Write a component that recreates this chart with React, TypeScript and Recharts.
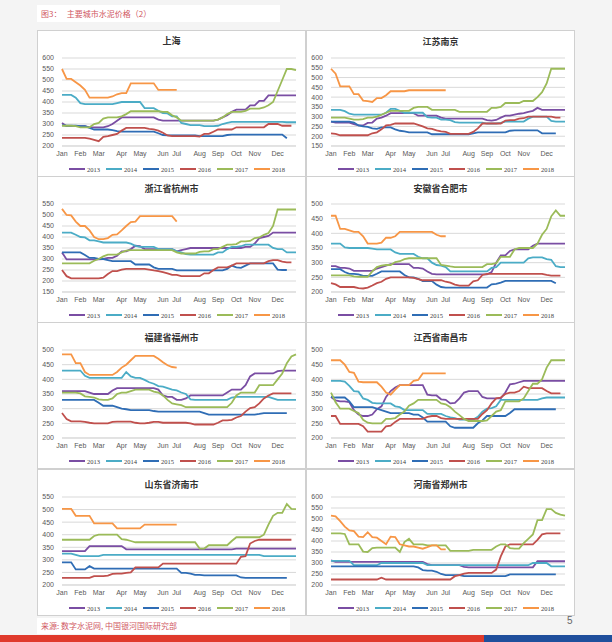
import { LineChart, Line, XAxis, YAxis, CartesianGrid } from "recharts";

const YEARS = ["2013", "2014", "2015", "2016", "2017", "2018"];
const COLORS = ["#7a4ea3", "#4bacc6", "#2f6db5", "#c0504d", "#9bbb59", "#f79646"];
const MONTHS = ["Jan", "Feb", "Mar", "Apr", "May", "Jun", "Jul", "Aug", "Sep", "Oct", "Nov", "Dec"];
// week index where each month label sits
const MONTH_WEEK = [0, 4, 8, 13, 17, 22, 25, 30, 34, 38, 42, 47];
const WEEKS = 52;

// 上海
const SH_2013 = [305, 290, 290, 290, 290, 290, 285, 285, 285, 285, 290, 300, 315, 330, 330, 330, 330, 330, 330, 330, 330, 320, 315, 315, 315, 315, 315, 315, 315, 315, 315, 315, 315, 315, 320, 330, 340, 355, 365, 365, 365, 385, 385, 405, 405, 430, 430, 430, 430, 430, 430, 430];
const SH_2014 = [432, 432, 432, 420, 395, 390, 390, 390, 390, 390, 390, 390, 395, 400, 400, 400, 400, 400, 372, 372, 372, 360, 350, 348, 335, 335, 305, 300, 295, 295, 295, 290, 290, 290, 292, 300, 305, 310, 310, 310, 310, 310, 310, 310, 310, 310, 310, 310, 310, 308, 308, 308];
const SH_2015 = [295, 292, 292, 292, 290, 290, 282, 275, 275, 275, 275, 272, 268, 265, 265, 265, 265, 265, 265, 265, 265, 258, 250, 248, 248, 248, 248, 248, 248, 248, 245, 245, 245, 245, 245, 245, 250, 252, 252, 252, 252, 252, 252, 252, 252, 252, 252, 252, 252, 235];
const SH_2016 = [237, 237, 237, 237, 237, 237, 233, 228, 222, 242, 245, 250, 255, 270, 282, 282, 282, 282, 282, 278, 276, 270, 260, 248, 245, 245, 245, 245, 245, 245, 243, 255, 255, 265, 275, 275, 275, 275, 285, 285, 285, 285, 285, 285, 285, 300, 300, 300, 292, 292, 292];
const SH_2017 = [292, 292, 292, 290, 285, 285, 285, 300, 305, 325, 330, 330, 330, 335, 345, 358, 358, 358, 358, 358, 358, 358, 355, 355, 340, 330, 315, 315, 315, 315, 315, 315, 315, 315, 320, 330, 345, 355, 355, 355, 360, 370, 370, 370, 375, 385, 400, 450, 500, 550, 550, 545];
const SH_2018 = [550, 505, 505, 490, 475, 455, 420, 420, 420, 420, 420, 425, 435, 440, 440, 485, 485, 485, 485, 485, 485, 455, 455, 455, 455, 455];

// 江苏南京
const NJ_2013 = [275, 270, 270, 270, 270, 262, 255, 255, 268, 270, 290, 295, 305, 318, 318, 318, 318, 318, 318, 305, 305, 305, 305, 305, 295, 290, 290, 290, 290, 290, 290, 290, 290, 290, 282, 280, 283, 295, 305, 305, 310, 315, 318, 325, 330, 345, 335, 335, 335, 335, 335, 335];
const NJ_2014 = [335, 335, 335, 328, 315, 310, 310, 310, 310, 310, 310, 310, 320, 340, 340, 330, 320, 320, 320, 320, 320, 298, 295, 295, 285, 285, 282, 272, 270, 270, 270, 270, 270, 270, 265, 265, 265, 268, 275, 275, 275, 275, 275, 290, 300, 300, 300, 300, 278, 275, 275, 275];
const NJ_2015 = [275, 275, 275, 275, 275, 270, 255, 250, 248, 240, 238, 245, 245, 245, 235, 228, 225, 220, 220, 220, 220, 220, 210, 210, 210, 210, 210, 210, 210, 210, 210, 215, 220, 220, 220, 220, 220, 220, 220, 228, 230, 230, 230, 230, 230, 230, 215, 215, 215, 215];
const NJ_2016 = [215, 212, 205, 205, 205, 205, 205, 205, 205, 215, 220, 235, 255, 258, 265, 265, 265, 265, 265, 258, 250, 240, 238, 230, 225, 222, 212, 212, 212, 212, 212, 222, 240, 265, 265, 265, 265, 265, 280, 282, 282, 290, 292, 300, 300, 300, 300, 300, 300, 295, 295];
const NJ_2017 = [295, 295, 295, 295, 290, 285, 285, 287, 295, 295, 300, 310, 320, 330, 330, 330, 330, 330, 345, 350, 350, 350, 335, 335, 335, 335, 335, 335, 325, 325, 325, 325, 325, 325, 325, 345, 345, 350, 370, 370, 370, 370, 380, 380, 380, 400, 425, 470, 545, 545, 545, 545];
const NJ_2018 = [545, 520, 455, 455, 455, 415, 415, 382, 380, 375, 395, 395, 410, 430, 430, 430, 430, 435, 435, 435, 435, 435, 435, 435, 435, 435];

// 浙江省杭州市
const HZ_2013 = [330, 298, 298, 298, 298, 298, 298, 298, 298, 300, 305, 305, 315, 335, 335, 345, 360, 358, 345, 345, 345, 345, 345, 345, 345, 335, 340, 345, 350, 350, 350, 350, 350, 350, 350, 350, 350, 350, 350, 350, 355, 355, 370, 395, 400, 405, 420, 420, 420, 420, 420, 420];
const HZ_2014 = [420, 420, 420, 410, 400, 398, 385, 385, 380, 375, 375, 375, 375, 375, 375, 370, 360, 355, 355, 355, 355, 345, 345, 345, 345, 335, 330, 322, 320, 320, 320, 320, 320, 320, 330, 330, 345, 355, 355, 358, 365, 365, 365, 365, 365, 365, 350, 345, 345, 330, 330, 330];
const HZ_2015 = [330, 330, 330, 330, 330, 318, 305, 305, 300, 300, 295, 290, 290, 290, 290, 290, 275, 275, 275, 275, 262, 255, 255, 255, 255, 248, 248, 248, 248, 248, 248, 248, 248, 248, 248, 248, 255, 270, 262, 260, 270, 280, 280, 280, 280, 280, 280, 252, 250, 250];
const HZ_2016 = [250, 222, 212, 212, 212, 212, 212, 212, 212, 215, 232, 245, 245, 252, 255, 255, 255, 255, 255, 252, 248, 245, 240, 235, 228, 228, 222, 222, 222, 222, 222, 235, 235, 250, 262, 262, 262, 270, 280, 280, 280, 280, 280, 280, 280, 290, 295, 295, 288, 285, 285];
const HZ_2017 = [280, 280, 280, 280, 280, 280, 280, 292, 300, 312, 320, 320, 320, 330, 338, 340, 340, 340, 340, 340, 340, 340, 340, 340, 340, 330, 325, 325, 325, 325, 332, 335, 335, 345, 345, 355, 365, 365, 368, 380, 380, 382, 395, 398, 410, 418, 450, 525, 525, 525, 525, 525];
const HZ_2018 = [528, 500, 498, 470, 450, 450, 430, 400, 390, 390, 395, 410, 412, 430, 450, 468, 470, 495, 495, 495, 495, 495, 495, 495, 495, 470];

// 安徽省合肥市
const HF_2013 = [288, 288, 282, 282, 280, 272, 272, 272, 272, 272, 280, 285, 290, 295, 295, 295, 295, 295, 282, 282, 280, 270, 262, 260, 260, 260, 260, 260, 260, 260, 260, 260, 260, 260, 260, 268, 300, 325, 325, 340, 345, 345, 345, 345, 358, 365, 365, 365, 365, 365, 365, 365];
const HF_2014 = [365, 365, 365, 352, 350, 350, 350, 350, 350, 348, 345, 345, 345, 345, 335, 330, 330, 330, 330, 320, 315, 315, 300, 292, 290, 285, 270, 270, 270, 270, 270, 270, 270, 270, 270, 282, 285, 300, 300, 300, 300, 300, 300, 315, 318, 318, 318, 312, 310, 288, 285, 285];
const HF_2015 = [278, 278, 278, 268, 262, 262, 260, 255, 255, 255, 262, 270, 270, 270, 270, 270, 258, 250, 250, 245, 237, 237, 237, 225, 217, 215, 215, 215, 215, 215, 215, 215, 215, 215, 215, 226, 228, 232, 238, 238, 238, 238, 238, 238, 238, 238, 238, 238, 238, 230];
const HF_2016 = [230, 226, 217, 217, 217, 217, 213, 212, 215, 222, 230, 235, 245, 250, 250, 250, 250, 250, 248, 244, 240, 240, 240, 240, 240, 235, 232, 225, 222, 222, 222, 236, 240, 258, 262, 262, 262, 262, 262, 262, 262, 262, 262, 262, 262, 262, 262, 258, 256, 256, 256];
const HF_2017 = [257, 257, 257, 257, 257, 253, 252, 252, 252, 270, 285, 290, 292, 292, 302, 305, 312, 315, 315, 315, 315, 315, 315, 315, 292, 290, 287, 285, 285, 285, 285, 285, 285, 285, 295, 295, 298, 320, 320, 320, 345, 350, 350, 350, 350, 365, 395, 415, 458, 478, 460, 460];
const HF_2018 = [460, 460, 415, 415, 410, 405, 405, 390, 365, 365, 365, 368, 385, 385, 390, 405, 405, 405, 405, 405, 405, 405, 405, 395, 390, 390];

// 福建省福州市
const FZ_2013 = [360, 360, 360, 360, 360, 360, 355, 350, 350, 350, 350, 362, 370, 370, 370, 370, 370, 370, 370, 370, 370, 365, 345, 340, 340, 330, 330, 335, 345, 345, 345, 345, 345, 345, 345, 345, 355, 365, 365, 365, 380, 410, 420, 420, 420, 420, 420, 428, 430, 430, 430, 430];
const FZ_2014 = [430, 430, 430, 430, 430, 412, 405, 405, 405, 405, 405, 405, 405, 405, 425, 410, 405, 405, 398, 390, 385, 377, 375, 370, 365, 362, 355, 350, 332, 330, 330, 330, 330, 330, 330, 330, 330, 338, 340, 340, 340, 340, 340, 340, 340, 340, 335, 330, 330, 330, 330, 330];
const FZ_2015 = [330, 330, 330, 330, 330, 330, 330, 330, 320, 310, 310, 310, 305, 300, 298, 295, 295, 295, 295, 295, 292, 290, 290, 290, 290, 290, 290, 290, 290, 290, 290, 285, 280, 280, 280, 280, 280, 280, 280, 280, 280, 280, 280, 282, 285, 285, 285, 285, 285, 285];
const FZ_2016 = [285, 265, 257, 257, 257, 255, 252, 250, 250, 250, 250, 255, 256, 256, 256, 256, 252, 250, 250, 252, 255, 255, 252, 252, 252, 252, 252, 252, 250, 246, 246, 246, 246, 246, 252, 260, 260, 262, 270, 275, 290, 302, 305, 318, 335, 345, 352, 352, 352, 352, 352];
const FZ_2017 = [355, 355, 355, 355, 352, 342, 340, 338, 332, 330, 330, 335, 350, 355, 355, 360, 365, 365, 365, 365, 358, 355, 345, 330, 318, 315, 312, 305, 305, 305, 305, 305, 305, 305, 305, 305, 305, 320, 345, 355, 355, 355, 355, 380, 380, 380, 380, 400, 420, 455, 478, 485];
const FZ_2018 = [485, 485, 485, 455, 455, 425, 415, 415, 415, 415, 415, 415, 425, 440, 450, 465, 480, 480, 480, 480, 480, 470, 458, 448, 442, 440];

// 江西省南昌市
const NC_2013 = [340, 328, 325, 325, 322, 295, 280, 275, 275, 280, 298, 308, 340, 360, 372, 380, 380, 380, 380, 380, 380, 348, 345, 345, 332, 330, 318, 320, 335, 355, 360, 360, 360, 340, 335, 335, 335, 335, 355, 383, 385, 390, 395, 395, 395, 395, 395, 395, 395, 395, 395, 395];
const NC_2014 = [395, 395, 395, 392, 378, 360, 358, 335, 330, 320, 318, 318, 318, 318, 308, 305, 295, 295, 295, 295, 295, 282, 282, 282, 282, 275, 270, 268, 263, 263, 263, 263, 272, 290, 300, 302, 308, 330, 330, 330, 330, 330, 330, 330, 330, 330, 335, 338, 338, 338, 338, 338];
const NC_2015 = [340, 338, 338, 338, 325, 305, 305, 305, 305, 305, 300, 295, 290, 285, 285, 285, 285, 285, 280, 280, 270, 256, 256, 256, 256, 256, 240, 235, 235, 235, 235, 235, 250, 260, 275, 275, 275, 275, 275, 285, 298, 298, 298, 298, 298, 298, 298, 298, 298, 298];
const NC_2016 = [275, 275, 248, 248, 248, 248, 248, 240, 222, 222, 222, 222, 240, 242, 255, 265, 265, 265, 265, 265, 265, 272, 275, 275, 268, 265, 265, 265, 265, 265, 265, 265, 265, 282, 295, 318, 335, 338, 350, 355, 355, 360, 375, 370, 370, 370, 370, 360, 352, 352, 352];
const NC_2017 = [355, 322, 300, 300, 300, 292, 285, 262, 252, 250, 250, 250, 265, 265, 268, 280, 290, 310, 318, 330, 330, 330, 330, 330, 318, 315, 305, 290, 278, 265, 258, 258, 258, 258, 260, 275, 290, 295, 325, 325, 325, 325, 335, 360, 385, 385, 400, 440, 465, 465, 465, 465];
const NC_2018 = [465, 465, 465, 450, 425, 422, 392, 390, 390, 390, 390, 375, 355, 348, 365, 380, 380, 380, 395, 398, 420, 420, 420, 420, 420, 420];

// 山东省济南市
const JN_2013 = [335, 335, 335, 335, 335, 335, 355, 355, 355, 355, 355, 355, 355, 355, 342, 342, 342, 342, 342, 342, 342, 342, 342, 342, 342, 342, 342, 342, 342, 342, 342, 342, 342, 342, 342, 342, 342, 342, 345, 345, 345, 345, 345, 345, 345, 345, 345, 345, 345, 345, 345, 345];
const JN_2014 = [325, 325, 325, 320, 315, 315, 315, 315, 315, 320, 320, 320, 320, 320, 320, 320, 320, 320, 320, 320, 320, 320, 320, 320, 320, 320, 320, 320, 320, 320, 320, 320, 320, 320, 320, 320, 320, 320, 320, 320, 320, 320, 320, 320, 315, 315, 315, 315, 315, 315, 315, 315];
const JN_2015 = [290, 290, 290, 262, 262, 262, 275, 265, 265, 265, 265, 265, 265, 265, 265, 265, 265, 265, 265, 265, 265, 265, 265, 265, 265, 265, 248, 248, 245, 240, 240, 238, 238, 238, 238, 238, 238, 238, 238, 230, 228, 228, 228, 228, 228, 228, 228, 228, 228, 228];
const JN_2016 = [228, 228, 228, 228, 228, 228, 228, 235, 235, 235, 237, 244, 245, 245, 248, 250, 270, 270, 270, 270, 270, 270, 285, 285, 285, 285, 285, 285, 285, 285, 285, 285, 285, 285, 285, 285, 285, 285, 285, 312, 315, 365, 375, 380, 380, 380, 380, 380, 380, 380, 380];
const JN_2017 = [380, 380, 380, 380, 380, 380, 380, 395, 400, 400, 400, 400, 400, 382, 380, 375, 370, 370, 370, 370, 370, 370, 370, 370, 370, 370, 370, 370, 370, 370, 345, 345, 358, 358, 358, 358, 358, 375, 390, 390, 390, 390, 390, 390, 400, 440, 475, 487, 487, 522, 503, 502];
const JN_2018 = [503, 503, 503, 475, 475, 475, 475, 445, 445, 445, 445, 445, 425, 425, 425, 425, 425, 425, 440, 440, 440, 440, 440, 440, 440, 440];

// 河南省郑州市
const ZZ_2013 = [312, 305, 305, 305, 305, 305, 305, 305, 305, 305, 305, 305, 305, 305, 305, 305, 305, 305, 305, 305, 305, 295, 290, 290, 290, 290, 290, 290, 290, 282, 280, 280, 280, 280, 280, 280, 280, 280, 280, 280, 280, 280, 280, 280, 280, 308, 308, 308, 308, 308, 308, 308];
const ZZ_2014 = [310, 310, 310, 310, 310, 290, 290, 290, 290, 290, 290, 300, 300, 300, 300, 300, 300, 300, 300, 300, 300, 290, 290, 290, 290, 290, 290, 290, 290, 290, 290, 290, 290, 290, 290, 290, 290, 290, 290, 290, 290, 290, 290, 290, 300, 300, 300, 300, 285, 285, 285, 285];
const ZZ_2015 = [285, 285, 285, 285, 285, 285, 285, 285, 285, 285, 285, 285, 285, 285, 285, 285, 285, 285, 285, 280, 268, 265, 265, 260, 250, 245, 245, 245, 245, 240, 240, 240, 240, 240, 240, 240, 240, 240, 240, 248, 248, 248, 248, 248, 248, 248, 248, 248, 248, 248];
const ZZ_2016 = [225, 225, 225, 225, 225, 225, 225, 225, 225, 225, 225, 233, 225, 225, 225, 225, 225, 225, 225, 225, 225, 225, 225, 225, 225, 225, 225, 240, 245, 252, 255, 255, 255, 255, 255, 255, 270, 330, 375, 385, 385, 385, 385, 385, 385, 405, 430, 435, 435, 435, 435];
const ZZ_2017 = [435, 435, 435, 432, 385, 385, 385, 352, 350, 368, 370, 370, 370, 370, 370, 350, 395, 410, 385, 385, 385, 380, 380, 380, 380, 380, 355, 355, 355, 355, 355, 360, 360, 360, 360, 360, 375, 385, 385, 368, 365, 365, 390, 410, 430, 495, 495, 545, 545, 528, 520, 515];
const ZZ_2018 = [515, 512, 490, 465, 448, 445, 420, 418, 440, 418, 415, 400, 385, 420, 418, 385, 380, 375, 375, 370, 365, 372, 380, 380, 362, 362];

const ticksFrom = (lo: number, hi: number) => {
  const t: number[] = [];
  for (let v = lo; v <= hi; v += 50) t.push(v);
  return t;
};

const PANELS = [
  { title: "上海", x: 37, y: 30, titleY: 10, lo: 200, hi: 600, series: [SH_2013, SH_2014, SH_2015, SH_2016, SH_2017, SH_2018] },
  { title: "江苏南京", x: 306, y: 30, titleY: 11, lo: 150, hi: 600, series: [NJ_2013, NJ_2014, NJ_2015, NJ_2016, NJ_2017, NJ_2018] },
  { title: "浙江省杭州市", x: 37, y: 176, titleY: 12, lo: 150, hi: 550, series: [HZ_2013, HZ_2014, HZ_2015, HZ_2016, HZ_2017, HZ_2018] },
  { title: "安徽省合肥市", x: 306, y: 176, titleY: 12, lo: 200, hi: 500, series: [HF_2013, HF_2014, HF_2015, HF_2016, HF_2017, HF_2018] },
  { title: "福建省福州市", x: 37, y: 322, titleY: 15, lo: 200, hi: 500, series: [FZ_2013, FZ_2014, FZ_2015, FZ_2016, FZ_2017, FZ_2018] },
  { title: "江西省南昌市", x: 306, y: 322, titleY: 15, lo: 200, hi: 500, series: [NC_2013, NC_2014, NC_2015, NC_2016, NC_2017, NC_2018] },
  { title: "山东省济南市", x: 37, y: 469, titleY: 15, lo: 200, hi: 550, series: [JN_2013, JN_2014, JN_2015, JN_2016, JN_2017, JN_2018] },
  { title: "河南省郑州市", x: 306, y: 469, titleY: 15, lo: 200, hi: 600, series: [ZZ_2013, ZZ_2014, ZZ_2015, ZZ_2016, ZZ_2017, ZZ_2018] },
];

const buildRows = (series: number[][]) =>
  Array.from({ length: WEEKS }, (_, i) => {
    const row: Record<string, number | null> = { wk: i };
    series.forEach((s, k) => {
      row[YEARS[k]] = i < s.length ? s[i] : null;
    });
    return row;
  });

const CJK = '"Noto Sans CJK SC", "Noto Sans", sans-serif';
const tickStyle = { fontSize: 7, fill: "#595959", fontFamily: '"Liberation Sans", Arial, sans-serif' };

function Panel({ p }: { p: (typeof PANELS)[number] }) {
  const rows = buildRows(p.series);
  return (
    <div
      style={{
        position: "absolute",
        left: p.x,
        top: p.y,
        width: 269,
        height: 147,
        background: "#fff",
        border: "1px solid #d0d0d0",
        boxSizing: "border-box",
      }}
    >
      <div
        style={{
          position: "absolute",
          left: 0,
          right: 0,
          top: p.titleY - 7,
          textAlign: "center",
          fontFamily: CJK,
          fontSize: 9,
          fontWeight: "bold",
          color: "#333",
          lineHeight: "14px",
        }}
      >
        {p.title}
      </div>
      <div style={{ position: "absolute", left: -1, top: -1 }}>
        <LineChart width={269} height={147} data={rows} margin={{ top: 28, right: 10, bottom: 0, left: 0 }}>
          <CartesianGrid vertical={false} stroke="#d9d9d9" />
          <XAxis
            dataKey="wk"
            type="number"
            domain={[0, WEEKS - 1]}
            ticks={MONTH_WEEK}
            interval={0}
            tickFormatter={(v: number) => MONTHS[MONTH_WEEK.indexOf(v)]}
            axisLine={{ stroke: "#d9d9d9" }}
            tickLine={false}
            tickSize={0}
            tickMargin={5}
            height={31}
            tick={tickStyle}
          />
          <YAxis
            type="number"
            domain={[p.lo, p.hi]}
            ticks={ticksFrom(p.lo, p.hi)}
            interval={0}
            width={25}
            axisLine={false}
            tickLine={false}
            tickSize={0}
            tickMargin={8}
            tick={tickStyle}
          />
          {YEARS.map((y, k) => (
            <Line
              key={y}
              dataKey={y}
              stroke={COLORS[k]}
              strokeWidth={1.8}
              dot={false}
              activeDot={false}
              isAnimationActive={false}
            />
          ))}
        </LineChart>
      </div>
      <div style={{ position: "absolute", left: 31, top: 133, display: "flex" }}>
        {YEARS.map((y, k) => (
          <div key={y} style={{ width: 37, display: "flex", alignItems: "center", height: 10 }}>
            <span style={{ width: 16, height: 2, background: COLORS[k], marginRight: 2 }}></span>
            <span style={{ fontSize: 6.5, color: "#404040", fontFamily: '"Liberation Serif", serif' }}>{y}</span>
          </div>
        ))}
      </div>
    </div>
  );
}

export default function App() {
  return (
    <div style={{ position: "absolute", left: 0, top: 0, width: 612, height: 642, background: "#f4f4f4", overflow: "hidden" }}>
      <div
        style={{
          position: "absolute",
          left: 37,
          top: 5,
          width: 243,
          height: 17,
          background: "#fff",
          fontFamily: CJK,
          fontSize: 8,
          color: "#d0575f",
          lineHeight: "17px",
          paddingLeft: 4,
          boxSizing: "border-box",
          whiteSpace: "pre",
        }}
      >
        {"图3：   主要城市水泥价格（2）"}
      </div>
      {PANELS.map((p) => (
        <Panel key={p.title} p={p} />
      ))}
      <div
        style={{
          position: "absolute",
          left: 37,
          top: 618,
          width: 253,
          height: 16,
          background: "#fff",
          fontFamily: CJK,
          fontSize: 8,
          color: "#d0575f",
          lineHeight: "16px",
          paddingLeft: 4,
          boxSizing: "border-box",
        }}
      >
        来源: 数字水泥网, 中国银河国际研究部
      </div>
      <div style={{ position: "absolute", left: 567, top: 615, fontSize: 10, color: "#666", fontFamily: '"Liberation Sans", sans-serif' }}>5</div>
      <div style={{ position: "absolute", left: 0, top: 635, width: 484, height: 7, background: "#e03a2c" }} />
      <div style={{ position: "absolute", left: 484, top: 635, width: 128, height: 7, background: "#1f4f9c" }} />
    </div>
  );
}
